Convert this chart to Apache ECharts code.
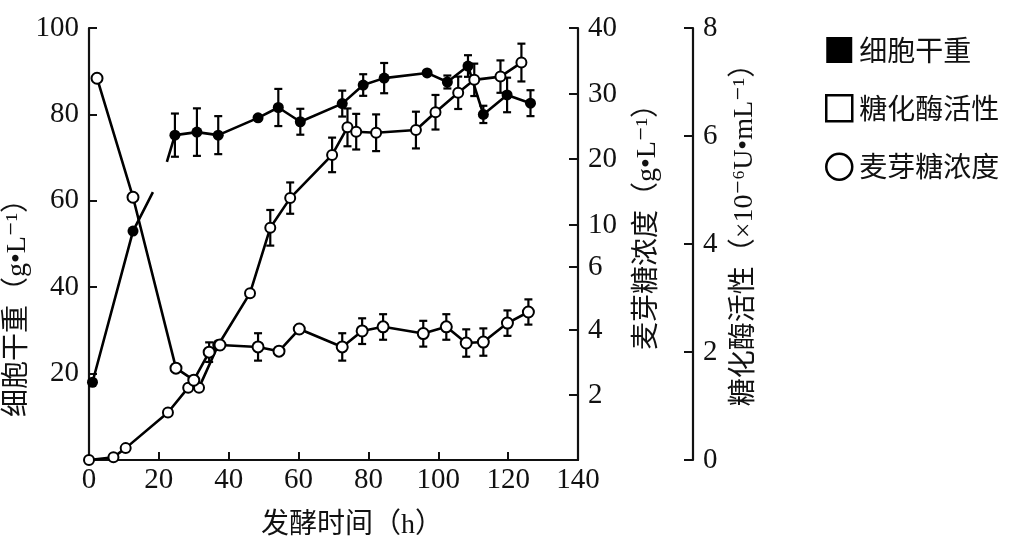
<!DOCTYPE html>
<html>
<head>
<meta charset="utf-8">
<script src="https://cdn.jsdelivr.net/npm/echarts@6/dist/echarts.min.js"></script>
<style>
html,body{margin:0;padding:0;background:#fff;}
#chart{width:1017px;height:549px;}
</style>
</head>
<body>
<div id="chart"></div>
<script>
// ---------- data ----------
// 细胞干重 (g/L), left axis; null = break in the scanned curve
const cellTime   = [1, 12.6, 18.3, 20, 22.3, 24.6, 30.9, 37, 48.4, 54.2, 60.5, 72.5, 78.5, 84.5, 96.8, 102.6, 108.5, 112.9, 119.7, 126.4];
const cellWeight = [18, 53, 62, null, 69, 75.2, 75.9, 75.2, 79.2, 81.6, 78.3, 82.5, 86.8, 88.4, 89.6, 87.5, 91.2, 80, 84.5, 82.6];
const cellErr    = [0, 0, 0, 0, 0, 5, 5.5, 4.4, 0, 4.3, 3, 3, 2.5, 3.5, 0, 1.5, 2.5, 2, 4, 3];
const cellLineOnly = [18.3, 22.3];

// 糖化酶活性 (×10^-6 U/mL), far right axis
const enzTime  = [0, 7, 10.5, 22.6, 28.4, 31.5, 37, 46.1, 51.9, 57.6, 69.6, 74, 76.5, 82.2, 93.6, 99.2, 105.7, 110.3, 117.8, 123.8];
const enzAct   = [0, 0.05, 0.22, 0.88, 1.34, 1.34, 2.13, 3.09, 4.30, 4.85, 5.65, 6.16, 6.08, 6.06, 6.11, 6.44, 6.80, 7.04, 7.10, 7.36];
const enzErr   = [0, 0, 0, 0, 0, 0, 0, 0, 0.33, 0.29, 0.32, 0.35, 0.33, 0.34, 0.34, 0.32, 0.3, 0.3, 0.3, 0.35];

// 麦芽糖浓度 (g/L), middle right axis
const maltTime = [2.3, 12.6, 24.9, 30, 34.4, 37.5, 48.4, 54.4, 60.2, 72.5, 78.2, 84.2, 95.7, 102.3, 108, 112.9, 119.8, 125.8];
const maltConc = [32.4, 14.2, 2.83, 2.46, 3.32, 3.54, 3.48, 3.35, 4.03, 3.48, 3.97, 4.1, 3.89, 4.1, 3.6, 3.63, 4.22, 4.57];
const maltErr  = [0, 0, 0, 0, 0.3, 0, 0.42, 0, 0, 0.42, 0.4, 0.4, 0.4, 0.4, 0.42, 0.42, 0.4, 0.4];

// tick labels
const xTicks = [0, 20, 40, 60, 80, 100, 120, 140];
const cellTicks = [0, 20, 40, 60, 80, 100];
const maltTickLabels = [0, 2, 4, 6, 10, 20, 30, 40];
const enzTicks = [0, 2, 4, 6, 8];

const legendNames = ['细胞干重', '糖化酶活性', '麦芽糖浓度'];

// ---------- the printed maltose axis is non-linear: its ticks sit at these fractions of the axis ----------
const maltTickFrac = [0, 0.15, 0.301, 0.447, 0.544, 0.697, 0.847, 1.0];
function maltToAxis(g) {
  for (let i = 1; i < maltTickLabels.length; i++) {
    if (g <= maltTickLabels[i]) {
      const a = maltTickLabels[i - 1], b = maltTickLabels[i];
      const fa = maltTickFrac[i - 1], fb = maltTickFrac[i];
      return 100 * (fa + (g - a) / (b - a) * (fb - fa));
    }
  }
  return 100;
}
const maltAxisVals = maltTickLabels.slice(1).map(maltToAxis);

// ---------- build series data ----------
const cellData = cellTime.map((t, i) => {
  const item = { value: [t, cellWeight[i]] };
  if (cellLineOnly.indexOf(t) >= 0) item.symbol = 'none';
  return item;
});
const cellErrData = cellTime.map((t, i) => [t, cellWeight[i] - cellErr[i], cellWeight[i] + cellErr[i]])
  .filter((d, i) => cellErr[i] > 0);
const enzData = enzTime.map((t, i) => [t, enzAct[i]]);
const enzErrData = enzTime.map((t, i) => [t, enzAct[i] - enzErr[i], enzAct[i] + enzErr[i]])
  .filter((d, i) => enzErr[i] > 0);
const maltData = maltTime.map((t, i) => [t, maltToAxis(maltConc[i])]);
const maltErrData = maltTime.map((t, i) => [t, maltToAxis(maltConc[i] - maltErr[i]), maltToAxis(maltConc[i] + maltErr[i])])
  .filter((d, i) => maltErr[i] > 0);

function errRender(params, api) {
  const x = api.value(0);
  const p1 = api.coord([x, api.value(1)]);
  const p2 = api.coord([x, api.value(2)]);
  const w = 4;
  const st = { stroke: '#000', lineWidth: 2.2 };
  return {
    type: 'group',
    children: [
      { type: 'line', shape: { x1: p1[0], y1: p1[1], x2: p2[0], y2: p2[1] }, style: st },
      { type: 'line', shape: { x1: p1[0] - w, y1: p1[1], x2: p1[0] + w, y2: p1[1] }, style: st },
      { type: 'line', shape: { x1: p2[0] - w, y1: p2[1], x2: p2[0] + w, y2: p2[1] }, style: st }
    ]
  };
}

const NUM_FONT = '"Liberation Serif", "DejaVu Serif", "Noto Sans CJK SC", serif';
const CJK_FONT = '"Noto Sans CJK SC", "Liberation Serif", sans-serif';
const NAME_FONT = '"Liberation Serif", "DejaVu Serif", "Noto Sans CJK SC", serif';
const black = '#111';

const axisLineStyle = { show: true, lineStyle: { color: black, width: 2.2 } };

const chart = echarts.init(document.getElementById('chart'), null, { renderer: 'canvas' });
chart.setOption({
  backgroundColor: '#fff',
  animation: false,
  grid: { left: 89, right: 439, top: 28, bottom: 89 },
  legend: {
    orient: 'vertical',
    left: 820,
    top: 31,
    itemWidth: 26,
    itemHeight: 26,
    itemGap: 30,
    textStyle: { fontFamily: CJK_FONT, fontSize: 28, color: black, padding: [0, 0, 0, 2] },
    data: [
      { name: legendNames[0], icon: 'rect', itemStyle: { color: '#000', borderWidth: 0 } },
      { name: legendNames[1], icon: 'rect', itemStyle: { color: '#fff', borderColor: '#000', borderWidth: 2.5 } },
      { name: legendNames[2], icon: 'circle', itemStyle: { color: '#fff', borderColor: '#000', borderWidth: 2.5 } }
    ]
  },
  xAxis: {
    type: 'value',
    min: xTicks[0],
    max: xTicks[xTicks.length - 1],
    interval: 20,
    name: '发酵时间（h）',
    nameLocation: 'middle',
    nameGap: 52,
    nameTextStyle: { fontFamily: NAME_FONT, fontSize: 28, color: black, padding: [0, 0, 0, 37] },
    axisLine: axisLineStyle,
    axisTick: { show: true, inside: true, length: 8, lineStyle: { color: black, width: 2 } },
    axisLabel: { fontFamily: NUM_FONT, fontSize: 29, color: black, margin: 6 },
    splitLine: { show: false }
  },
  yAxis: [
    {
      type: 'value',
      position: 'left',
      min: cellTicks[0],
      max: cellTicks[cellTicks.length - 1],
      interval: 20,
      name: '细胞干重（g•L⁻¹）',
      nameLocation: 'middle',
      nameRotate: 90,
      nameGap: 54,
      nameTextStyle: { fontFamily: NAME_FONT, fontSize: 28, color: black, padding: [0, 114, 0, 0] },
      axisLine: axisLineStyle,
      axisTick: { show: true, inside: true, length: 8, lineStyle: { color: black, width: 2 } },
      axisLabel: { fontFamily: NUM_FONT, fontSize: 29, color: black, margin: 10, showMinLabel: false },
      splitLine: { show: false }
    },
    {
      type: 'value',
      position: 'right',
      min: 0,
      max: 100,
      name: '麦芽糖浓度（g•L⁻¹）',
      nameLocation: 'middle',
      nameRotate: 90,
      nameGap: 56,
      nameTextStyle: { fontFamily: NAME_FONT, fontSize: 28, color: black, padding: [0, 0, 0, 48] },
      axisLine: axisLineStyle,
      axisTick: { show: true, inside: true, length: 9, customValues: maltAxisVals, lineStyle: { color: black, width: 2 } },
      axisLabel: {
        fontFamily: NUM_FONT, fontSize: 29, color: black, margin: 10,
        customValues: maltAxisVals,
        formatter: function (v) {
          let best = 0, bd = Infinity;
          maltAxisVals.forEach((a, i) => { const d = Math.abs(a - v); if (d < bd) { bd = d; best = i; } });
          return String(maltTickLabels[best + 1]);
        }
      },
      splitLine: { show: false }
    },
    {
      type: 'value',
      position: 'right',
      offset: 115,
      min: enzTicks[0],
      max: enzTicks[enzTicks.length - 1],
      interval: 2,
      name: '糖化酶活性（×10⁻⁶U•mL⁻¹）',
      nameLocation: 'middle',
      nameRotate: 90,
      nameGap: 38,
      nameTextStyle: { fontFamily: NAME_FONT, fontSize: 28, color: black, padding: [0, 0, 0, 32] },
      axisLine: axisLineStyle,
      axisTick: { show: true, inside: true, length: 9, lineStyle: { color: black, width: 2 } },
      axisLabel: { fontFamily: NUM_FONT, fontSize: 29, color: black, margin: 10, padding: [0, 0, 16, 0] },
      splitLine: { show: false }
    }
  ],
  series: [
    {
      name: legendNames[0],
      type: 'line',
      yAxisIndex: 0,
      data: cellData,
      symbol: 'circle',
      symbolSize: 11,
      connectNulls: false,
      lineStyle: { color: '#000', width: 2.6 },
      itemStyle: { color: '#000' },
      z: 5
    },
    {
      name: legendNames[0],
      type: 'custom',
      yAxisIndex: 0,
      renderItem: errRender,
      encode: { x: 0, y: [1, 2] },
      data: cellErrData,
      z: 3
    },
    {
      name: legendNames[1],
      type: 'line',
      yAxisIndex: 2,
      data: enzData,
      symbol: 'emptyCircle',
      symbolSize: 10,
      lineStyle: { color: '#000', width: 2.6 },
      itemStyle: { color: '#000', borderWidth: 2.4 },
      z: 5
    },
    {
      name: legendNames[1],
      type: 'custom',
      yAxisIndex: 2,
      renderItem: errRender,
      encode: { x: 0, y: [1, 2] },
      data: enzErrData,
      z: 3
    },
    {
      name: legendNames[2],
      type: 'line',
      yAxisIndex: 1,
      data: maltData,
      symbol: 'emptyCircle',
      symbolSize: 11,
      lineStyle: { color: '#000', width: 2.6 },
      itemStyle: { color: '#000', borderWidth: 2.4 },
      z: 5
    },
    {
      name: legendNames[2],
      type: 'custom',
      yAxisIndex: 1,
      renderItem: errRender,
      encode: { x: 0, y: [1, 2] },
      data: maltErrData,
      z: 3
    }
  ]
});
</script>
</body>
</html>
